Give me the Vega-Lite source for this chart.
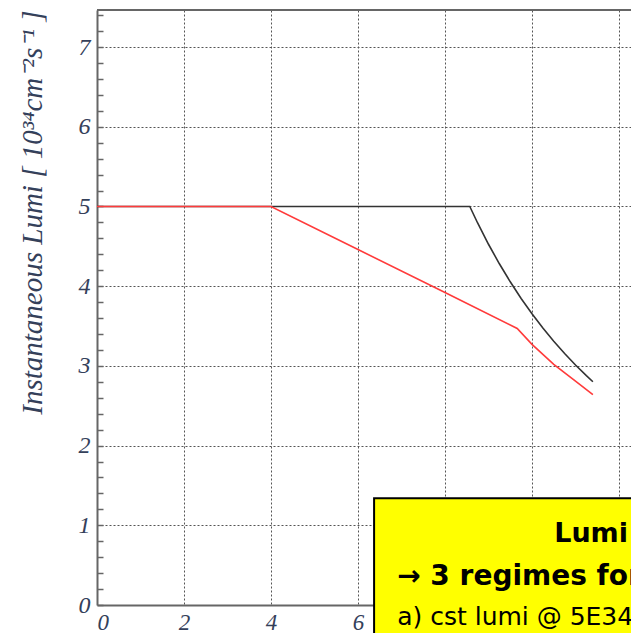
{
  "$schema": "https://vega.github.io/schema/vega-lite/v6.json",
  "width": 534,
  "height": 595,
  "autosize": {"type": "none"},
  "padding": {"left": 97, "top": 10, "right": 0, "bottom": 28},
  "background": "white",
  "config": {
    "view": {"stroke": null},
    "axis": {
      "labelFont": "Liberation Serif",
      "labelFontStyle": "italic",
      "labelFontSize": 23,
      "labelColor": "#34405a",
      "labelOverlap": false,
      "titleFont": "Liberation Serif",
      "titleFontStyle": "italic",
      "titleFontWeight": "normal",
      "titleColor": "#34405a",
      "domainColor": "#666666",
      "domainWidth": 2,
      "tickColor": "#666666",
      "tickWidth": 1.5,
      "gridColor": "#555555",
      "gridDash": [2, 2]
    }
  },
  "datasets": {
    "lumi": [
      {"t": 0, "lumi": 5, "series": "cst lumi"},
      {"t": 8.57, "lumi": 5, "series": "cst lumi"},
      {"t": 8.75, "lumi": 4.793, "series": "cst lumi"},
      {"t": 9.0, "lumi": 4.526, "series": "cst lumi"},
      {"t": 9.25, "lumi": 4.281, "series": "cst lumi"},
      {"t": 9.5, "lumi": 4.055, "series": "cst lumi"},
      {"t": 9.75, "lumi": 3.846, "series": "cst lumi"},
      {"t": 10.0, "lumi": 3.654, "series": "cst lumi"},
      {"t": 10.25, "lumi": 3.475, "series": "cst lumi"},
      {"t": 10.5, "lumi": 3.309, "series": "cst lumi"},
      {"t": 10.75, "lumi": 3.155, "series": "cst lumi"},
      {"t": 11.0, "lumi": 3.011, "series": "cst lumi"},
      {"t": 11.25, "lumi": 2.877, "series": "cst lumi"},
      {"t": 11.4, "lumi": 2.801, "series": "cst lumi"},
      {"t": 0, "lumi": 5, "series": "levelled"},
      {"t": 4, "lumi": 5, "series": "levelled"},
      {"t": 6, "lumi": 4.46, "series": "levelled"},
      {"t": 8, "lumi": 3.92, "series": "levelled"},
      {"t": 9.66, "lumi": 3.47, "series": "levelled"},
      {"t": 10, "lumi": 3.27, "series": "levelled"},
      {"t": 10.5, "lumi": 3.02, "series": "levelled"},
      {"t": 11, "lumi": 2.81, "series": "levelled"},
      {"t": 11.4, "lumi": 2.64, "series": "levelled"}
    ],
    "box": [
      {"x0": 6.37, "x1": 13.5, "y0": 1.34, "y1": -0.6}
    ],
    "heading": [
      {"x": 10.51, "y": 0.79, "label": "Lumi"}
    ],
    "subheading": [
      {"x": 6.9, "y": 0.25, "label": "→ 3 regimes for"}
    ],
    "body": [
      {"x": 6.9, "y": -0.25, "label": "a) cst lumi @ 5E34"}
    ]
  },
  "layer": [
    {
      "data": {"name": "lumi"},
      "mark": {"type": "line", "strokeWidth": 1.6},
      "encoding": {
        "x": {
          "field": "t",
          "type": "quantitative",
          "scale": {"domain": [0, 12.276], "nice": false, "zero": false},
          "axis": {
            "title": null,
            "values": [0, 2, 4, 6, 8, 10, 12],
            "ticks": false,
            "labelPadding": 6,
            "grid": true,
            "domain": true
          }
        },
        "y": {
          "field": "lumi",
          "type": "quantitative",
          "scale": {"domain": [0, 7.465], "nice": false, "zero": false},
          "axis": {
            "title": "Instantaneous Lumi [ 10³⁴cm⁻²s⁻¹ ]",
            "titleFontSize": 29,
            "titleAnchor": "end",
            "titleX": -50,
            "tickCount": 200,
            "values": [0, 0.2, 0.4, 0.6, 0.8, 1, 1.2, 1.4, 1.6, 1.8, 2, 2.2, 2.4, 2.6, 2.8, 3, 3.2, 3.4, 3.6, 3.8, 4, 4.2, 4.4, 4.6, 4.8, 5, 5.2, 5.4, 5.6, 5.8, 6, 6.2, 6.4, 6.6, 6.8, 7, 7.2, 7.4],
            "labelExpr": "abs(datum.value - round(datum.value)) < 0.01 ? format(datum.value, 'd') : ''",
            "labelFontSize": 24,
            "tickSize": -6,
            "labelPadding": 13,
            "grid": true,
            "gridOpacity": {"condition": {"test": "abs(datum.value - round(datum.value)) < 0.01 && datum.value > 0", "value": 1}, "value": 0},
            "domain": true
          }
        },
        "color": {
          "field": "series",
          "type": "nominal",
          "scale": {"domain": ["cst lumi", "levelled"], "range": ["#333333", "#ff3b3b"]},
          "legend": null
        }
      }
    },
    {
      "data": {"values": [{"top": 7.465, "from": 0, "to": 12.276}]},
      "mark": {"type": "rule", "color": "#666666", "strokeWidth": 2},
      "encoding": {
        "y": {"field": "top", "type": "quantitative"},
        "x": {"field": "from", "type": "quantitative"},
        "x2": {"field": "to"}
      }
    },
    {
      "data": {"name": "box"},
      "mark": {"type": "rect", "fill": "#ffff00", "stroke": "#000000", "strokeWidth": 2},
      "encoding": {
        "x": {"field": "x0", "type": "quantitative"},
        "x2": {"field": "x1"},
        "y": {"field": "y0", "type": "quantitative"},
        "y2": {"field": "y1"}
      }
    },
    {
      "data": {"name": "heading"},
      "mark": {"type": "text", "font": "DejaVu Sans", "fontWeight": "bold", "fontSize": 27, "align": "left", "baseline": "alphabetic", "color": "#000000"},
      "encoding": {
        "x": {"field": "x", "type": "quantitative"},
        "y": {"field": "y", "type": "quantitative"},
        "text": {"field": "label"}
      }
    },
    {
      "data": {"name": "subheading"},
      "mark": {"type": "text", "font": "DejaVu Sans", "fontWeight": "bold", "fontSize": 28, "align": "left", "baseline": "alphabetic", "color": "#000000"},
      "encoding": {
        "x": {"field": "x", "type": "quantitative"},
        "y": {"field": "y", "type": "quantitative"},
        "text": {"field": "label"}
      }
    },
    {
      "data": {"name": "body"},
      "mark": {"type": "text", "font": "DejaVu Sans", "fontSize": 25, "align": "left", "baseline": "alphabetic", "color": "#000000"},
      "encoding": {
        "x": {"field": "x", "type": "quantitative"},
        "y": {"field": "y", "type": "quantitative"},
        "text": {"field": "label"}
      }
    }
  ]
}
